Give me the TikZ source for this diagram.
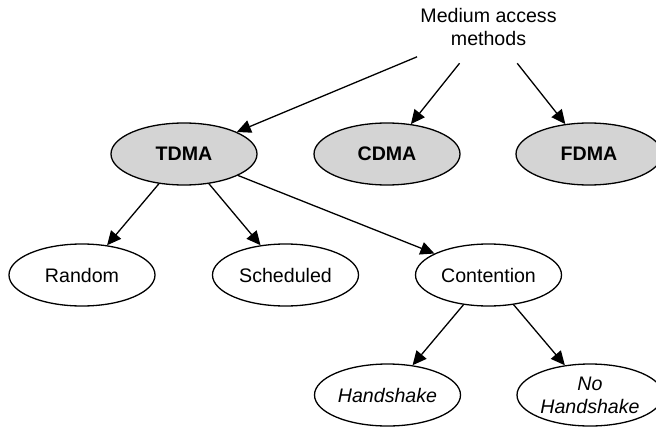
\documentclass[tikz,border=0pt]{standalone}
\usepackage{fontspec}
\setmainfont{Liberation Sans}
\usetikzlibrary{shapes.geometric,arrows.meta}
\definecolor{nodegray}{RGB}{212,212,212}
\begin{document}
\begin{tikzpicture}[x=0.5pt,y=-0.5pt,
  font=\fontsize{9.8}{11.5}\selectfont,
  oval/.style={ellipse, draw, line width=0.65pt, minimum width=73pt, minimum height=31pt, inner sep=0pt, align=center},
  method/.style={oval, fill=nodegray, font=\fontsize{9.8}{11.5}\selectfont\bfseries},
  leaf/.style={oval, font=\fontsize{9.8}{11.5}\selectfont\itshape},
  link/.style={-{Triangle[length=7pt,width=6.5pt]}, line width=0.65pt}]
\clip (0,0) rectangle (656,427);
\node[ellipse, minimum width=118pt, minimum height=37pt, inner sep=0pt, align=center] (mam) at (488.5,27) {Medium access\\methods};
\node[method] (tdma) at (184,154) {TDMA};
\node[method] (cdma) at (387,154) {CDMA};
\node[method] (fdma) at (589,154) {FDMA};
\node[oval] (random) at (82,275) {Random};
\node[oval] (sched) at (285.5,275) {Scheduled};
\node[oval] (cont) at (488.5,275) {Contention};
\node[leaf] (hand) at (387.5,395) {Handshake};
\node[leaf] (nohand) at (590,395) {No\\Handshake};
\draw[link] (mam) -- (tdma);
\draw[link] (mam) -- (cdma);
\draw[link] (mam) -- (fdma);
\draw[link] (tdma) -- (random);
\draw[link] (tdma) -- (sched);
\draw[link] (tdma) -- (cont);
\draw[link] (cont) -- (hand);
\draw[link] (cont) -- (nohand);
\end{tikzpicture}
\end{document}
